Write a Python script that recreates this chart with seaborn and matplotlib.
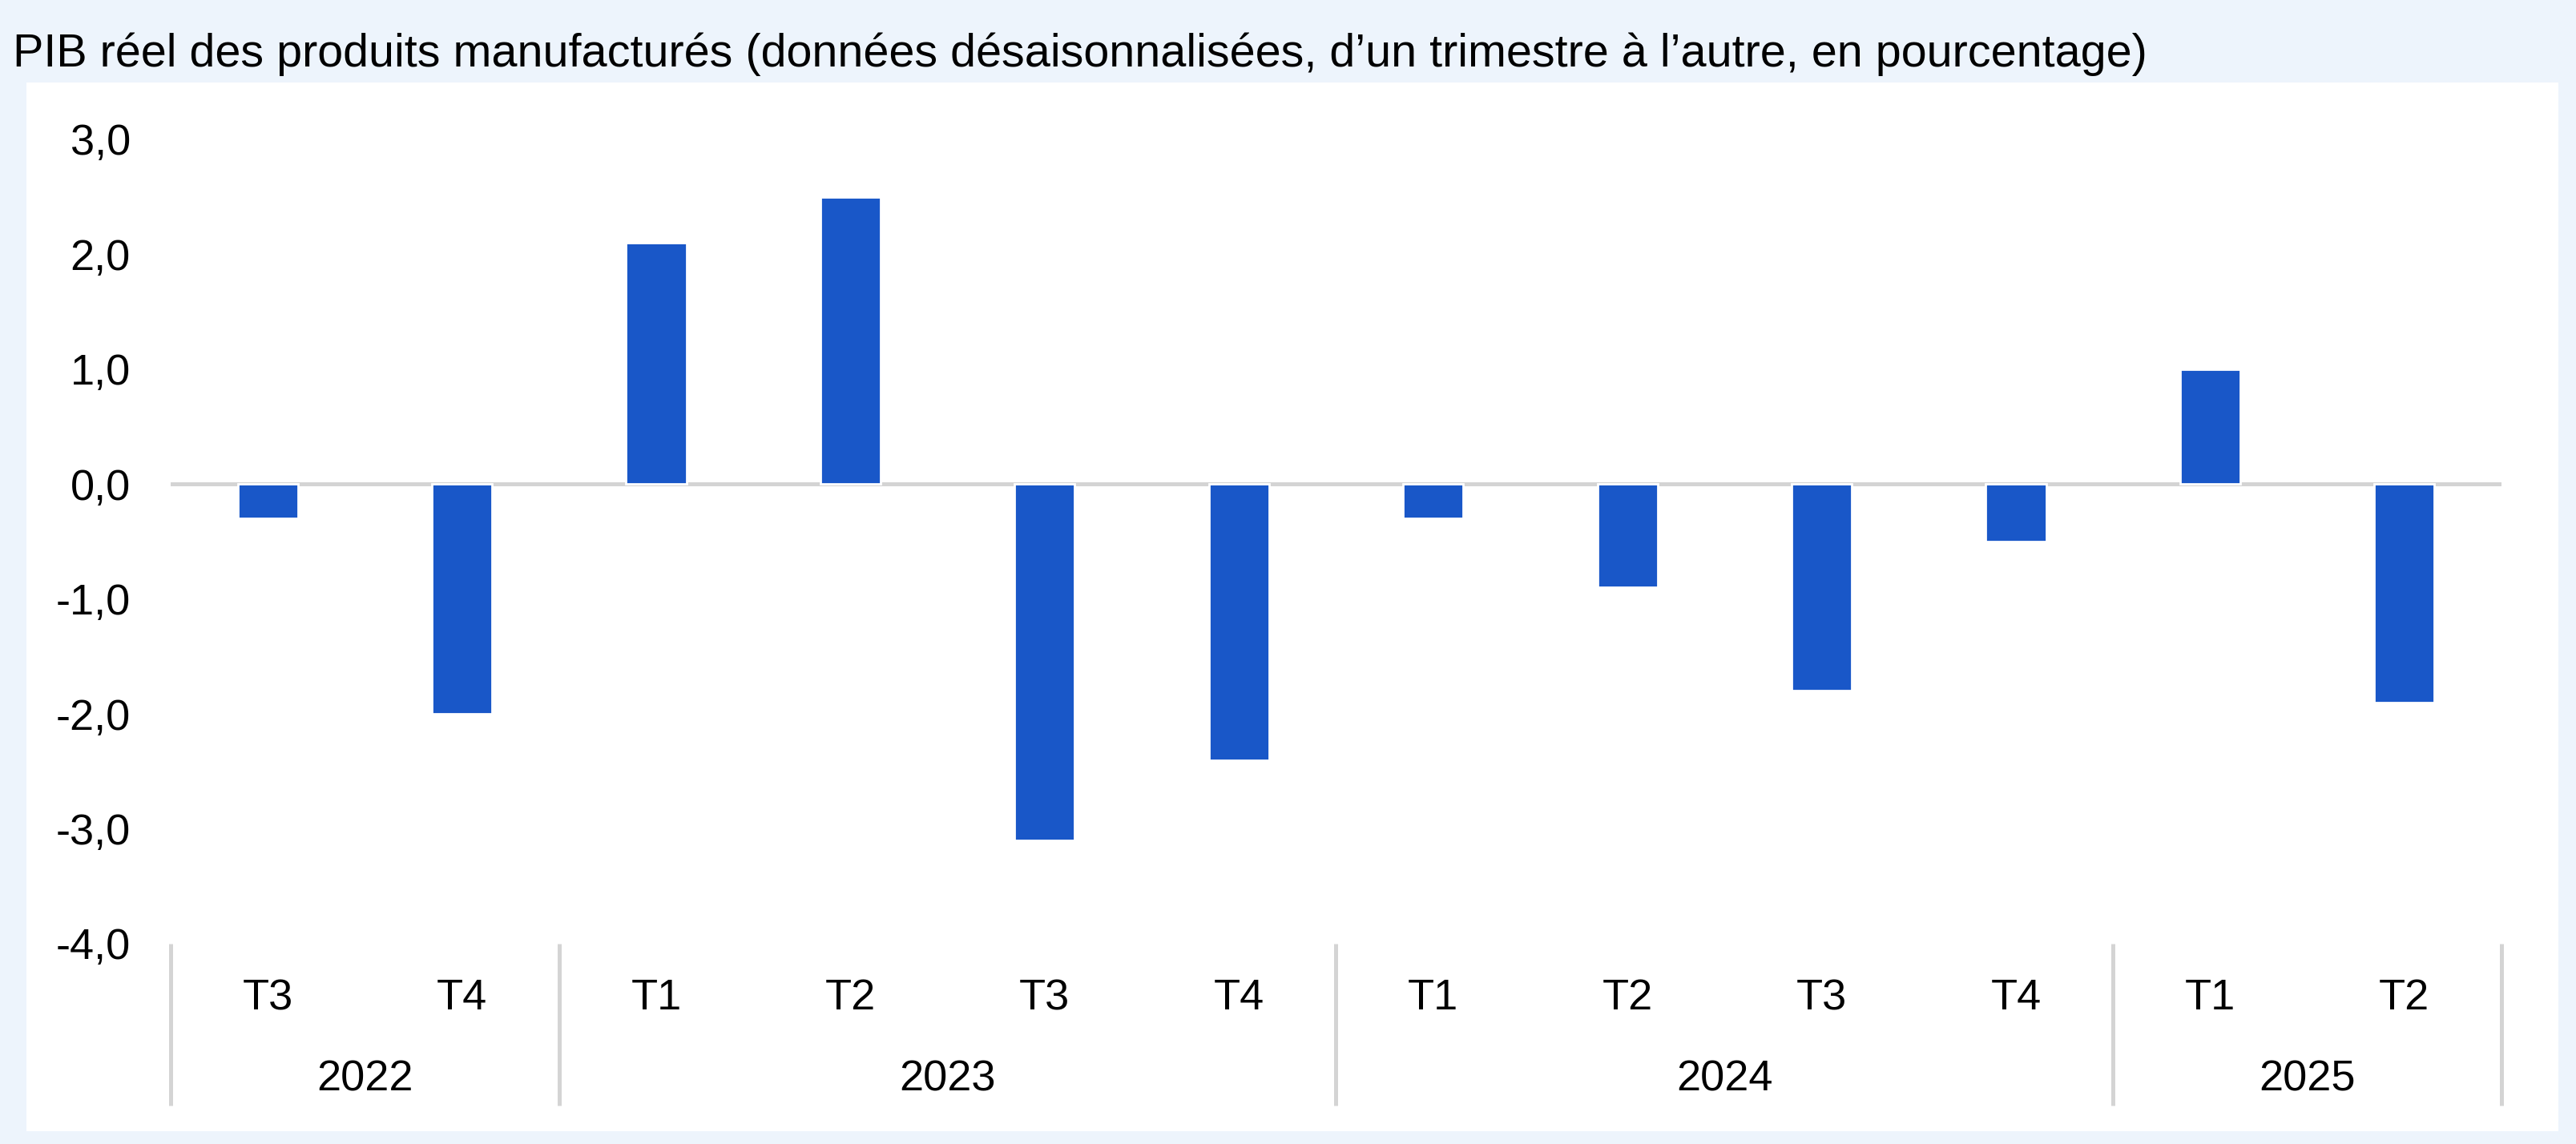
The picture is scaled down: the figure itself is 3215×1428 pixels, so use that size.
import matplotlib
matplotlib.use("Agg")
import matplotlib.pyplot as plt
import matplotlib.patches as mpatches
import matplotlib.transforms as mtransforms
import seaborn as sns
import pandas as pd

# ---- data ----
years = ["2022", "2022", "2023", "2023", "2023", "2023",
         "2024", "2024", "2024", "2024", "2025", "2025"]
quarters = ["T3", "T4", "T1", "T2", "T3", "T4",
            "T1", "T2", "T3", "T4", "T1", "T2"]
values = [-0.3, -2.0, 2.1, 2.5, -3.1, -2.4, -0.3, -0.9, -1.8, -0.5, 1.0, -1.9]
year_labels = ["2022", "2023", "2024", "2025"]
yticks = [3.0, 2.0, 1.0, 0.0, -1.0, -2.0, -3.0, -4.0]
title = "PIB réel des produits manufacturés (données désaisonnalisées, d’un trimestre à l’autre, en pourcentage)"

keys = [f"{y} {q}" for y, q in zip(years, quarters)]
df = pd.DataFrame({"key": keys, "value": values})

sns.set_theme(style="white")
plt.rcParams["font.family"] = ["Liberation Sans", "DejaVu Sans"]

W, H, DPI = 3216, 1428, 200
fig = plt.figure(figsize=(W / DPI, H / DPI), dpi=DPI)
fig.patch.set_facecolor("#EDF4FC")

# white panel
panel = mpatches.Rectangle((33 / W, 1 - 1412 / H), (3193 - 33) / W, (1412 - 103) / H,
                           transform=fig.transFigure, facecolor="white",
                           edgecolor="none", zorder=-5)
fig.patches.append(panel)

ax = fig.add_axes([213 / W, 1 - 1178 / H, (3122 - 213) / W, (1178 - 174) / H])
ax.set_zorder(2)
ax.set_facecolor("none")

sns.barplot(data=df, x="key", y="value", order=keys, color="#1957C8",
            saturation=1, width=0.31, ax=ax, zorder=3)

ax.set_xlim(-0.5, len(keys) - 0.5)
ax.set_ylim(-4.0, 3.0)
ax.set_yticks(yticks)
ax.set_yticklabels([f"{v:.1f}".replace(".", ",") for v in yticks])
ax.set_xticks(range(len(keys)))
ax.set_xticklabels(quarters)
ax.set_xlabel("")
ax.set_ylabel("")
for s in ax.spines.values():
    s.set_visible(False)
ax.tick_params(axis="y", length=0, pad=18, labelsize=19.5, colors="black")
ax.tick_params(axis="x", length=0, pad=15.5, labelsize=19.5, colors="black")

# zero line
ax.axhline(0, color="#D4D4D4", linewidth=1.8, zorder=2)

# category separators and year labels
trans = mtransforms.blended_transform_factory(ax.transData, ax.transAxes)
bounds = [-0.5]
for yl in year_labels:
    n = years.count(yl)
    bounds.append(bounds[-1] + n)
for b in bounds:
    ax.plot([b, b], [0, -0.201], transform=trans, color="#D4D4D4",
            linewidth=1.8, clip_on=False, solid_capstyle="butt")
for i, yl in enumerate(year_labels):
    cx = (bounds[i] + bounds[i + 1]) / 2
    ax.text(cx, -0.169, yl, transform=trans, ha="center", va="center",
            fontsize=19.5, color="black")

fig.text(16 / W, 1 - 83 / H, title, ha="left", va="baseline", fontsize=20.7,
         color="black")

fig.savefig("out.png", dpi=DPI, facecolor=fig.get_facecolor())
